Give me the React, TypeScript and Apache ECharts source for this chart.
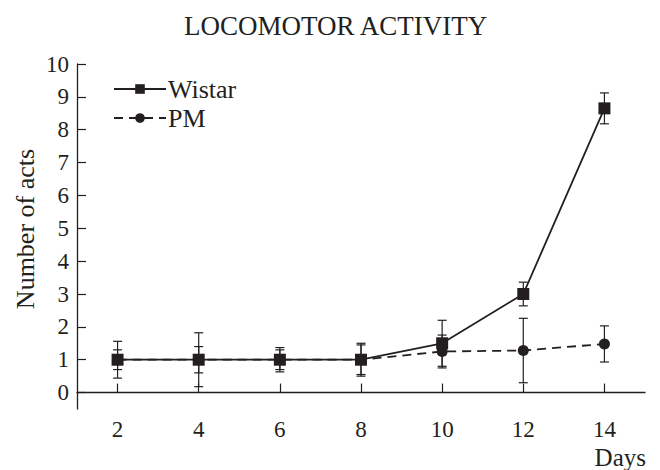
import React, { useEffect, useRef } from "react";
import * as echarts from "echarts";

const days = [2, 4, 6, 8, 10, 12, 14];
const xTicks = [2, 4, 6, 8, 10, 12, 14];
const yTicks = [0, 1, 2, 3, 4, 5, 6, 7, 8, 9, 10];
const wistar = [1, 1, 1, 1, 1.5, 3, 8.65];
const wistarErr = [0.3, 0.4, 0.37, 0.5, 0.7, 0.36, 0.47];
const pm = [1, 1, 1, 1, 1.25, 1.28, 1.48];
const pmErr = [0.56, 0.82, 0.3, 0.45, 0.5, 0.98, 0.55];

const FONT = '"Liberation Serif", "Times New Roman", serif';
const INK = "#231f20";

function errData(vals: number[], errs: number[]) {
  return days.map((d, i) => [d, vals[i] - errs[i], vals[i] + errs[i]]);
}

function errRender(params: any, api: any) {
  const x = api.value(0);
  const lo = api.value(1);
  const hi = api.value(2);
  const pLo = api.coord([x, lo]);
  const pHi = api.coord([x, hi]);
  const w = 4.5;
  const style = { stroke: INK, lineWidth: 1.2, fill: "none" };
  return {
    type: "group",
    children: [
      { type: "line", shape: { x1: pLo[0], y1: pLo[1], x2: pHi[0], y2: pHi[1] }, style },
      { type: "line", shape: { x1: pLo[0] - w, y1: pLo[1], x2: pLo[0] + w, y2: pLo[1] }, style },
      { type: "line", shape: { x1: pHi[0] - w, y1: pHi[1], x2: pHi[0] + w, y2: pHi[1] }, style },
    ],
  };
}

export default function App() {
  const ref = useRef<HTMLDivElement>(null);
  useEffect(() => {
    if (!ref.current) return;
    const chart = echarts.init(ref.current, undefined, { renderer: "svg" });
    chart.setOption({
      animation: false,
      backgroundColor: "#ffffff",
      title: {
        text: "LOCOMOTOR ACTIVITY",
        left: 184,
        top: 12,
        padding: 0,
        textStyle: { fontFamily: FONT, fontSize: 27, fontWeight: "normal", color: INK },
      },
      legend: {
        data: ["Wistar", "PM"],
        orient: "vertical",
        left: 113,
        top: 76,
        padding: 0,
        itemWidth: 52,
        itemHeight: 12,
        itemGap: 3,
        textStyle: { fontFamily: FONT, fontSize: 26, color: INK, padding: [0, 0, 0, -3] },
      },
      grid: { left: 77, right: 15, top: 64, bottom: 61, containLabel: false },
      xAxis: {
        type: "value",
        min: 1,
        max: 15,
        axisLine: { show: true, lineStyle: { color: INK, width: 1.3 } },
        axisTick: { show: true, inside: true, length: 9, customValues: xTicks, lineStyle: { color: INK, width: 1.2 } },
        axisLabel: {
          customValues: xTicks,
          margin: 9,
          fontFamily: FONT,
          fontSize: 23,
          color: INK,
        },
        splitLine: { show: false },
      },
      yAxis: {
        type: "value",
        min: -0.5,
        max: 10,
        axisLine: { show: true, lineStyle: { color: INK, width: 1.3 } },
        axisTick: {
          show: true,
          inside: true,
          length: 9,
          customValues: yTicks,
          lineStyle: { color: INK, width: 1.2 },
        },
        axisLabel: {
          customValues: yTicks,
          margin: 8,
          fontFamily: FONT,
          fontSize: 23,
          color: INK,
        },
        splitLine: { show: false },
      },
      graphic: [
        {
          type: "text",
          x: 25,
          y: 229,
          rotation: Math.PI / 2,
          style: {
            text: "Number of acts",
            fontFamily: FONT,
            fontSize: 26,
            fill: INK,
            align: "center",
            verticalAlign: "middle",
          },
        },
        {
          type: "text",
          right: 14,
          top: 445,
          style: { text: "Days", fontFamily: FONT, fontSize: 25, fill: INK },
        },
      ],
      series: [
        {
          type: "custom",
          name: "WistarErr",
          renderItem: errRender,
          data: errData(wistar, wistarErr),
          encode: { x: 0, y: [1, 2] },
          z: 1,
          silent: true,
        },
        {
          type: "custom",
          name: "PMErr",
          renderItem: errRender,
          data: errData(pm, pmErr),
          encode: { x: 0, y: [1, 2] },
          z: 1,
          silent: true,
        },
        {
          type: "line",
          name: "PM",
          data: days.map((d, i) => [d, pm[i]]),
          symbol: "circle",
          symbolSize: 11,
          lineStyle: { color: INK, width: 1.8, type: [9, 6] },
          itemStyle: { color: INK },
          z: 2,
        },
        {
          type: "line",
          name: "Wistar",
          data: days.map((d, i) => [d, wistar[i]]),
          symbol: "rect",
          symbolSize: 12,
          lineStyle: { color: INK, width: 1.8 },
          itemStyle: { color: INK },
          z: 3,
        },
      ],
    });
    return () => chart.dispose();
  }, []);
  return (
    <div
      ref={ref}
      style={{ position: "fixed", left: 0, top: 0, width: 660, height: 470, background: "#fff" }}
    />
  );
}
